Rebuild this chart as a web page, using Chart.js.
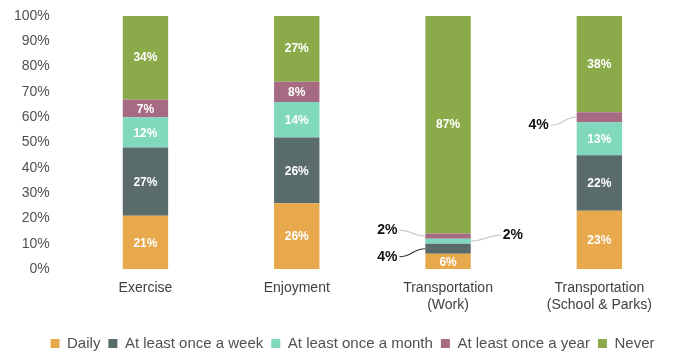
<!DOCTYPE html>
<html lang="en">
<head>
    <meta charset="UTF-8">
    <title>Activity frequency</title>
    <script src="https://cdn.jsdelivr.net/npm/chart.js"></script>
    <style>
        html, body { margin: 0; padding: 0; background: #fff; }
        #wrap { width: 675px; height: 352px; }
    </style>
</head>
<body>
    <div id="wrap">
        <canvas id="freqChart" width="675" height="352"></canvas>
    </div>
    <script>
        // categories and share of respondents per frequency (%)
        const categories = [['Exercise'], ['Enjoyment'], ['Transportation', '(Work)'], ['Transportation', '(School & Parks)']];
        const daily = [21, 26, 6, 23];
        const weekly = [27, 26, 4, 22];
        const monthly = [12, 14, 2, 13];
        const yearly = [7, 8, 2, 4];
        const never = [34, 27, 87, 38];
        const yTicks = [0, 10, 20, 30, 40, 50, 60, 70, 80, 90, 100];

        const seriesNames = ['Daily', 'At least once a week', 'At least once a month', 'At least once a year', 'Never'];
        const seriesColors = ['#e8a84c', '#5a6b6b', '#80d8bd', '#a66b83', '#8bab4b'];
        const seriesValues = [daily, weekly, monthly, yearly, never];

        // small segments get their number outside the bar with a leader line
        // [datasetIndex, categoryIndex, side, labelDy]
        const callouts = [
            [3, 2, 'left', -6],
            [2, 2, 'right', -6],
            [1, 2, 'left', 8],
            [3, 3, 'left', 8]
        ];

        const segmentLabels = {
            id: 'segmentLabels',
            afterDatasetsDraw(chart) {
                const ctx = chart.ctx;
                ctx.save();
                chart.data.datasets.forEach((ds, di) => {
                    const meta = chart.getDatasetMeta(di);
                    meta.data.forEach((bar, ci) => {
                        const v = ds.data[ci];
                        const call = callouts.find(c => c[0] === di && c[1] === ci);
                        const midY = (bar.y + bar.base) / 2;
                        if (call) {
                            const half = bar.width / 2;
                            const edge = call[2] === 'left' ? bar.x - half : bar.x + half;
                            const tx = call[2] === 'left' ? edge - 38 : edge + 42;
                            const ty = midY + call[3];
                            const lineEnd = call[2] === 'left' ? tx + 12 : tx - 12;
                            ctx.strokeStyle = call[0] === 1 ? '#333' : '#c8cccc';
                            ctx.lineWidth = 1.2;
                            ctx.beginPath();
                            ctx.moveTo(lineEnd, ty);
                            ctx.bezierCurveTo((lineEnd + edge) / 2, ty, (lineEnd + edge) / 2, midY, edge, midY);
                            ctx.stroke();
                            ctx.fillStyle = '#111';
                            ctx.font = 'bold 14px "Liberation Sans", Arial, sans-serif';
                            ctx.textAlign = 'center';
                            ctx.textBaseline = 'middle';
                            ctx.fillText(v + '%', tx, ty);
                        } else {
                            ctx.fillStyle = '#ffffff';
                            ctx.font = 'bold 12px "Liberation Sans", Arial, sans-serif';
                            ctx.textAlign = 'center';
                            ctx.textBaseline = 'middle';
                            ctx.fillText(v + '%', bar.x, midY + 1);
                        }
                    });
                });
                ctx.restore();
            }
        };

        // nudge the legend row a little to the right
        const legendShift = {
            id: 'legendShift',
            afterLayout(chart) {
                chart.legend.left += 13;
                chart.legend.right += 13;
            }
        };

        new Chart(document.getElementById('freqChart'), {
            type: 'bar',
            data: {
                labels: categories,
                datasets: seriesNames.map((name, i) => ({
                    label: name,
                    data: seriesValues[i],
                    backgroundColor: seriesColors[i],
                    borderWidth: 0,
                    barPercentage: 0.3,
                    categoryPercentage: 1
                }))
            },
            options: {
                responsive: false,
                animation: false,
                layout: { padding: { left: 2, right: -2, top: 0, bottom: -9 } },
                scales: {
                    x: {
                        stacked: true,
                        grid: { display: false },
                        border: { display: false },
                        afterFit(scale) { scale.height = 59; },
                        ticks: {
                            color: '#404040',
                            font: { family: '"Liberation Sans", Arial, sans-serif', size: 14 },
                            padding: 3,
                            maxRotation: 0
                        }
                    },
                    y: {
                        stacked: true,
                        min: 0,
                        max: 100,
                        grid: { display: false },
                        border: { display: false },
                        // tick padding is horizontal here; keep the top gap small
                        afterFit(scale) { scale.paddingTop = 16; },
                        afterBuildTicks(axis) {
                            axis.ticks = yTicks.map(v => ({ value: v }));
                        },
                        ticks: {
                            color: '#505050',
                            font: { family: '"Liberation Sans", Arial, sans-serif', size: 14 },
                            padding: 12,
                            callback: v => v + '%'
                        }
                    }
                },
                plugins: {
                    legend: {
                        position: 'bottom',
                        labels: {
                            boxWidth: 9,
                            boxHeight: 9,
                            padding: 8,
                            color: '#505050',
                            font: { family: '"Liberation Sans", Arial, sans-serif', size: 15 }
                        }
                    },
                    tooltip: { enabled: false }
                }
            },
            plugins: [segmentLabels, legendShift]
        });
    </script>
</body>
</html>
